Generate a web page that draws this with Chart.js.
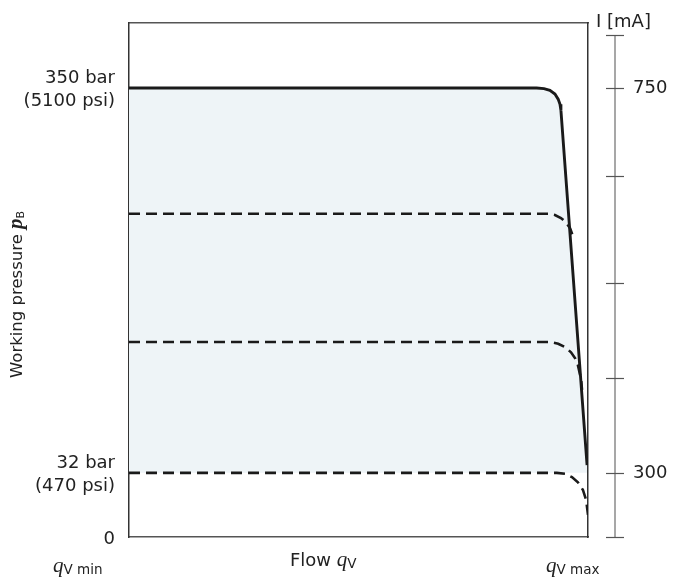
<!DOCTYPE html>
<html>
<head>
<meta charset="utf-8">
<script src="https://cdn.jsdelivr.net/npm/chart.js@4.4.0/dist/chart.umd.min.js"></script>
<style>
  body { margin: 0; background: #fff; }
  canvas { display: block; }
</style>
</head>
<body>
<canvas id="pqChart" width="674" height="578"></canvas>
<script>
// flow in % of qV max, current in mA (right axis)
const flowSolid    = [0, 88.8, 90.4, 91.7, 92.8, 93.5, 93.9, 94.1, 99.8];
const currentSolid = [750, 750, 749.3, 747.3, 743, 737, 731, 724, 309];

const flowDash1    = [0, 91.3, 92.8, 94.1, 95.2, 96.1, 96.7];
const currentDash1 = [603, 603, 601.5, 598, 593, 586, 577];

const flowDash2    = [0, 91.7, 93.5, 95.0, 96.3, 97.2, 97.8, 98.5, 98.7];
const currentDash2 = [453, 453, 451, 447, 441, 434, 426, 409, 397];

const flowDash3    = [0, 93.2, 95.0, 96.5, 97.8, 98.9, 99.6, 100];
const currentDash3 = [300, 300, 299, 295, 289, 280, 268, 251];

// left axis: pressure labels at current levels
const pressureTicks  = [225, 300, 750];
const pressureLabels = ['0', ['32 bar', '(470 psi)'], ['350 bar', '(5100 psi)']];

// right axis: current in mA
const currentTicks  = [225, 300, 411, 522, 647, 750, 812];
const currentLabels = ['', '300', '', '', '', '750', ''];

const fillLevel = 300;
const yMin = 225, yMax = 826;

const ink = '#1a1a1a';
const frame = '#555';

function pts(xs, ys) {
    return xs.map((x, i) => ({ x: x, y: ys[i] }));
}

// titles with italic q / p and subscripts
function drawParts(ctx, x, y, parts) {
    parts.forEach(p => {
        ctx.font = p.font;
        ctx.fillText(p.text, x, y + (p.dy || 0));
        x += ctx.measureText(p.text).width + (p.gap || 0);
    });
}

const sans = '"DejaVu Sans"';
const qFont = 'italic 21px "Liberation Serif"';
const subFont = '13.5px ' + sans;

const textPlugin = {
    id: 'texts',
    afterDraw(chart) {
        const ctx = chart.ctx;
        ctx.save();
        ctx.fillStyle = '#222';
        ctx.textBaseline = 'alphabetic';
        ctx.textAlign = 'left';

        drawParts(ctx, 53, 572, [
            { text: 'q', font: qFont },
            { text: 'V min', font: subFont, dy: 2 }
        ]);
        drawParts(ctx, 290, 566, [
            { text: 'Flow ', font: '18px ' + sans },
            { text: 'q', font: qFont },
            { text: 'V', font: subFont, dy: 2 }
        ]);
        drawParts(ctx, 546, 572, [
            { text: 'q', font: qFont },
            { text: 'V max', font: subFont, dy: 2 }
        ]);
        drawParts(ctx, 596, 27, [
            { text: 'I [mA]', font: '18px ' + sans }
        ]);

        ctx.translate(22, 378);
        ctx.rotate(-Math.PI / 2);
        drawParts(ctx, 0, 0, [
            { text: 'Working pressure ', font: '16.5px ' + sans },
            { text: 'p', font: 'italic bold 21px "Liberation Serif"' },
            { text: 'B', font: '11px ' + sans, dy: 2 }
        ]);
        ctx.restore();
    }
};

// separate current axis to the right of the frame
const currentAxisPlugin = {
    id: 'currentAxis',
    afterDraw(chart) {
        const s = chart.scales.y2;
        const x = chart.chartArea.right + 27;
        const ctx = chart.ctx;
        ctx.save();
        ctx.strokeStyle = '#8a8a8a';
        ctx.lineWidth = 1.5;
        ctx.beginPath();
        ctx.moveTo(x, s.getPixelForValue(Math.max(...currentTicks)));
        ctx.lineTo(x, s.getPixelForValue(Math.min(...currentTicks)));
        ctx.stroke();
        ctx.strokeStyle = '#555';
        ctx.lineWidth = 1.2;
        currentTicks.forEach(v => {
            const y = Math.round(s.getPixelForValue(v)) + 0.5;
            ctx.beginPath();
            ctx.moveTo(x - 9, y);
            ctx.lineTo(x + 9, y);
            ctx.stroke();
        });
        ctx.restore();
    }
};

Chart.defaults.font.family = sans;
Chart.defaults.color = '#222';

const lineBase = {
    borderColor: ink,
    pointRadius: 0,
    tension: 0,
    fill: false
};

function fixVertical(width) {
    return s => {
        s.width = width;
        s.paddingTop = 0;
        s.paddingBottom = 0;
    };
}

new Chart(document.getElementById('pqChart'), {
    type: 'line',
    data: {
        datasets: [
            Object.assign({}, lineBase, {
                label: '750 mA',
                data: pts(flowSolid, currentSolid),
                borderWidth: 2.9,
                fill: { value: fillLevel },
                backgroundColor: 'rgb(238, 244, 247)'
            }),
            Object.assign({}, lineBase, {
                label: 'dash 1',
                data: pts(flowDash1, currentDash1),
                borderWidth: 2.6,
                borderDash: [11, 6]
            }),
            Object.assign({}, lineBase, {
                label: 'dash 2',
                data: pts(flowDash2, currentDash2),
                borderWidth: 2.6,
                borderDash: [11, 6]
            }),
            Object.assign({}, lineBase, {
                label: '300 mA',
                data: pts(flowDash3, currentDash3),
                borderWidth: 2.6,
                borderDash: [11, 6]
            })
        ]
    },
    options: {
        responsive: false,
        animation: false,
        layout: { padding: { top: 23, left: 0, right: 0, bottom: 0 } },
        plugins: {
            legend: { display: false },
            tooltip: { enabled: false },
            filler: { drawTime: 'beforeDatasetsDraw' }
        },
        scales: {
            x: {
                type: 'linear', min: 0, max: 100,
                ticks: { display: false },
                grid: { display: false },
                border: { display: true, color: frame, width: 1.5 },
                afterFit: s => { s.height = 41; s.paddingLeft = 0; s.paddingRight = 0; }
            },
            x2: {
                type: 'linear', position: 'top', min: 0, max: 100,
                ticks: { display: false },
                grid: { display: false },
                border: { display: true, color: frame, width: 1.5 },
                afterFit: s => { s.height = 0; s.paddingLeft = 0; s.paddingRight = 0; }
            },
            y: {
                type: 'linear', position: 'left', min: yMin, max: yMax,
                grid: { display: false },
                border: { display: true, color: '#333', width: 1.5 },
                afterBuildTicks: s => { s.ticks = pressureTicks.map(v => ({ value: v })); },
                ticks: {
                    autoSkip: false,
                    padding: 6,
                    labelOffset: 2,
                    font: { size: 18, lineHeight: 1.3 },
                    callback: (v) => pressureLabels[pressureTicks.indexOf(v)]
                },
                afterFit: fixVertical(129)
            },
            y2: {
                type: 'linear', position: 'right', min: yMin, max: yMax,
                grid: { display: false },
                border: { display: true, color: '#333', width: 1.5 },
                afterBuildTicks: s => { s.ticks = currentTicks.map(v => ({ value: v })); },
                ticks: {
                    autoSkip: false,
                    padding: 37,
                    font: { size: 18 },
                    callback: (v) => currentLabels[currentTicks.indexOf(v)]
                },
                afterFit: fixVertical(86)
            }
        }
    },
    plugins: [textPlugin, currentAxisPlugin]
});
</script>
</body>
</html>
